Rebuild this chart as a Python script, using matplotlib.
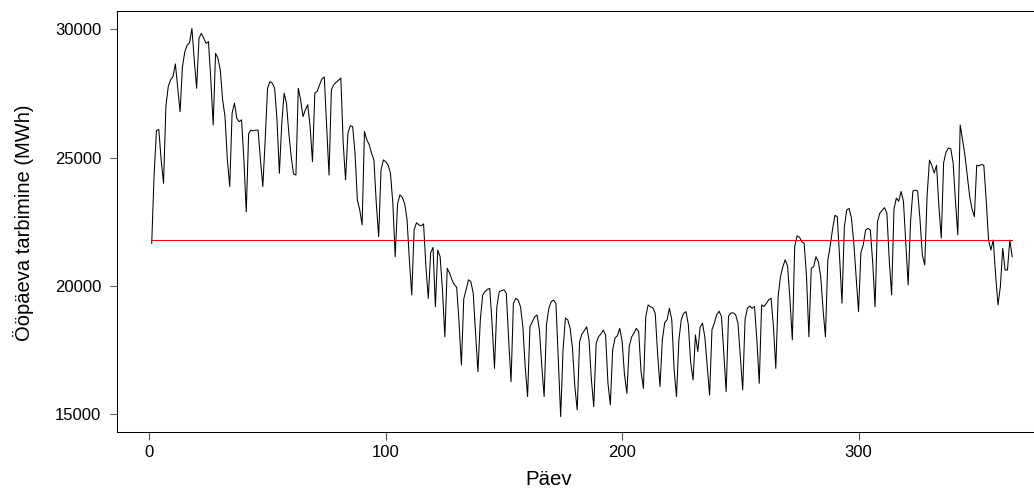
import numpy as np
import matplotlib
matplotlib.use("Agg")
import matplotlib.pyplot as plt

# daily electricity consumption, MWh (one row per calendar week, Mon..Sun)
tarbimine = [
    21660, 24300, 26050, 26100, 24900, 24000,
    27000, 27770, 28030, 28150, 28650, 27700, 26790,
    28540, 29120, 29380, 29470, 30030, 28810, 27700,
    29650, 29840, 29650, 29450, 29520, 28030, 26270,
    29060, 28870, 28410, 27250, 26600, 24910, 23870,
    26730, 27120, 26530, 26400, 26470, 24910, 22890,
    25940, 26070, 26040, 26070, 26070, 24910, 23870,
    25690, 27700, 27960, 27900, 27700, 26470, 24390,
    26300, 27510, 27120, 25950, 25040, 24360, 24320,
    27700, 27250, 26600, 26860, 27060, 26210, 24840,
    27510, 27580, 27840, 28060, 28140, 26210, 24320,
    27640, 27840, 27930, 28010, 28100, 25560, 24130,
    25950, 26240, 26210, 25170, 23350, 22960, 22380,
    26020, 25690, 25500, 25170, 24910, 23220, 21920,
    24520, 24910, 24840, 24710, 24390, 23220, 21140,
    23200, 23550, 23450, 23200, 22600, 21000, 19650,
    22180, 22465, 22380, 22340, 22420, 20750, 19520,
    21300, 21500, 19190, 21400, 21140, 19840, 18020,
    20690, 20500, 20240, 20050, 19950, 18600, 16920,
    19500, 19850, 20240, 20170, 19720, 18150, 16660,
    18670, 19650, 19780, 19870, 19900, 18500, 16790,
    19190, 19780, 19820, 19850, 19720, 17900, 16270,
    19320, 19520, 19450, 19190, 18410, 16850, 15690,
    18410, 18610, 18800, 18870, 18300, 16900, 15690,
    18500, 19130, 19390, 19450, 19320, 17120, 14910,
    17520, 18750, 18680, 18350, 17570, 16080, 15170,
    17830, 18130, 18260, 18410, 17890, 16340, 15300,
    17760, 18020, 18130, 18280, 18090, 16210, 15370,
    17520, 17970, 18060, 18350, 17830, 16540, 15820,
    17640, 18010, 18160, 18350, 18220, 16660, 16010,
    18800, 19260, 19190, 19150, 18930, 17370, 16080,
    17890, 18570, 18680, 19130, 18680, 16730, 15690,
    17890, 18680, 18930, 19000, 18500, 17000, 16340,
    18090, 17450, 18400, 18550, 18000, 16900, 15750,
    18300, 18550, 18880, 19015, 18820, 17400, 15880,
    18820, 18950, 18950, 18880, 18550, 17250, 15950,
    18700, 19130, 19220, 19130, 19200, 17900, 16210,
    19260, 19200, 19320, 19460, 19520, 18420, 16790,
    19600, 20370, 20760, 21020, 20760, 19460, 17900,
    21530, 21950, 21900, 21730, 21660, 20370, 18020,
    20690, 20750, 21140, 20950, 20370, 19070, 18020,
    21000, 21550, 22200, 22750, 22700, 21100, 19330,
    22300, 22960, 23020, 22650, 21660, 20360, 19000,
    21300, 21600, 22180, 22245, 22180, 20900, 19190,
    22500, 22830, 22950, 23050, 22830, 21000, 19650,
    23000, 23420, 23300, 23680, 23300, 21700, 20040,
    22500, 23700, 23730, 23700, 22600, 21200, 20820,
    23500, 24900, 24700, 24400, 24700, 23100, 21860,
    24800, 25200, 25370, 25350, 24800, 23300, 21990,
    26270, 25700, 25100, 24300, 23500, 23000, 22700,
    24700, 24680, 24730, 24700, 23350, 21790, 21400,
    21790, 20400, 19260, 19970, 21470, 20620, 20620,
    21790, 21140,
]
paev = np.arange(1, len(tarbimine) + 1)
keskmine = np.mean(tarbimine)

x_ticks = [0, 100, 200, 300]
y_ticks = [15000, 20000, 25000, 30000]

plt.rcParams['font.family'] = ['Liberation Sans', 'DejaVu Sans']

fig = plt.figure(figsize=(10.34, 4.9), dpi=100)
# plot region runs past the right edge of the image
ax = fig.add_axes([117.3 / 1034, 1 - 432.3 / 490, 929.3 / 1034, 421.3 / 490])

ax.plot(paev, tarbimine, color='black', lw=0.75)
ax.plot(paev, np.full(len(paev), keskmine), color='red', lw=0.75)

ax.set_xlim(-13.56, 379.56)
ax.set_ylim(14300, 30710)
ax.set_xticks(x_ticks)
ax.set_yticks(y_ticks)
ax.set_xticklabels([str(t) for t in x_ticks])
ax.set_yticklabels([str(t) for t in y_ticks])

for s in ax.spines.values():
    s.set_linewidth(0.75)
    s.set_color('black')

ax.tick_params(axis='both', direction='out', length=5.4, width=0.75,
               labelsize=12, color='#555555')
ax.tick_params(axis='x', pad=4)
ax.tick_params(axis='y', pad=6)

fig.text(549 / 1034, 1 - 479 / 490, 'Päev', ha='center', va='center', fontsize=14.7)
fig.text(23 / 1034, 1 - 223 / 490, 'Ööpäeva tarbimine (MWh)', rotation=90,
         ha='center', va='center', fontsize=14.5)

fig.savefig('out.png', dpi=100)
